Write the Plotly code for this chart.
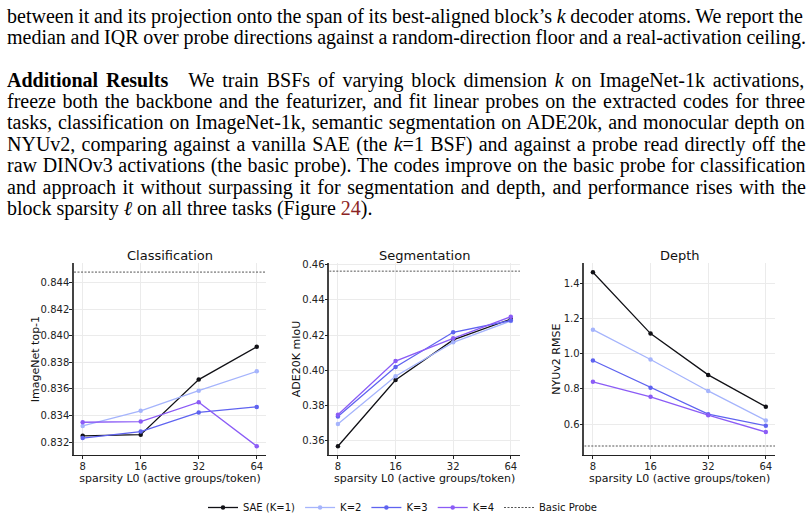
import plotly.graph_objects as go
import math
import re

# ---------------- data ----------------
sparsity = [8, 16, 32, 64]
series_names = ["SAE (K=1)", "K=2", "K=3", "K=4"]
series_colors = ["#111116", "#a5b4fc", "#5f63f0", "#8b5cf6"]

cls_sae = [0.83247, 0.83255, 0.83671, 0.83919]
cls_k2 = [0.83321, 0.83435, 0.83587, 0.83733]
cls_k3 = [0.83230, 0.83279, 0.83423, 0.83465]
cls_k4 = [0.83349, 0.83354, 0.83500, 0.83168]
cls_basic = 0.84482

seg_sae = [0.3570, 0.3945, 0.4173, 0.4291]
seg_k2 = [0.3696, 0.3967, 0.4159, 0.4280]
seg_k3 = [0.3739, 0.4019, 0.4216, 0.4282]
seg_k4 = [0.3748, 0.4053, 0.4182, 0.4304]
seg_basic = 0.45625

dep_sae = [1.4614, 1.1135, 0.8791, 0.6986]
dep_k2 = [1.1358, 0.9665, 0.7879, 0.6205]
dep_k3 = [0.9609, 0.8065, 0.6558, 0.5907]
dep_k4 = [0.8400, 0.7544, 0.6502, 0.5549]
dep_basic = 0.4753

panel_titles = ["Classification", "Segmentation", "Depth"]
y_titles = ["ImageNet top-1", "ADE20K mIoU", "NYUv2 RMSE"]
x_title = "sparsity L0 (active groups/token)"
cls_ticks = [0.832, 0.834, 0.836, 0.838, 0.840, 0.842, 0.844]
seg_ticks = [0.36, 0.38, 0.40, 0.42, 0.44, 0.46]
dep_ticks = [0.6, 0.8, 1.0, 1.2, 1.4]

text_lines = [
    "between it and its projection onto the span of its best-aligned block\u2019s <i>k</i> decoder atoms. We report the",
    "median and IQR over probe directions against a random-direction floor and a real-activation ceiling.",
    "<b>Additional Results</b>\u2003We train BSFs of varying block dimension <i>k</i> on ImageNet-1k activations,",
    "freeze both the backbone and the featurizer, and fit linear probes on the extracted codes for three",
    "tasks, classification on ImageNet-1k, semantic segmentation on ADE20k, and monocular depth on",
    "NYUv2, comparing against a vanilla SAE (the <i>k</i>=1 BSF) and against a probe read directly off the",
    "raw DINOv3 activations (the basic probe). The codes improve on the basic probe for classification",
    "and approach it without surpassing it for segmentation and depth, and performance rises with the",
    "block sparsity <i>\u2113</i> on all three tasks (Figure <span style='color:#8b2323'>24</span>).",
]
text_justified = [True, True, True, True, True, True, True, True, False]
text_baselines = [20.5, 42, 85, 106.7, 128.3, 150, 171.7, 193.3, 215]

# ---------------- text width estimation (Times metrics, per 1000 em) ----------------
ROMAN = dict(zip(
    " abcdefghijklmnopqrstuvwxyz",
    [250, 444, 500, 444, 500, 444, 333, 500, 500, 278, 278, 500, 278, 778, 500, 500, 500,
     500, 333, 389, 278, 500, 500, 722, 500, 500, 444]))
ROMAN.update(dict(zip(
    "ABCDEFGHIJKLMNOPQRSTUVWXYZ",
    [722, 667, 667, 722, 611, 556, 722, 722, 333, 389, 722, 611, 889, 722, 722, 556, 722,
     667, 556, 611, 722, 722, 944, 722, 722, 611])))
ROMAN.update({c: 500 for c in "0123456789"})
ROMAN.update({",": 250, ".": 250, "-": 333, "(": 333, ")": 333, "=": 564, "\u2019": 333,
              ":": 278, ";": 278, "/": 278, "\u2003": 1000, "\u2113": 420})
BOLD = dict(ROMAN)
BOLD.update({"A": 722, "R": 722, "d": 556, "n": 556, "u": 556, "t": 333, "a": 500, "s": 389,
             "e": 444, "i": 278, "o": 500, "l": 278, " ": 250})
ITAL = dict(ROMAN)
ITAL.update({"k": 444})


def measure(s):
    bold = ital = False
    total = 0
    spaces = 0
    for part in re.split(r"(<[^>]+>)", s):
        if part.startswith("<"):
            inner = part.strip("</>")
            tag = inner.split()[0].lower() if inner else ""
            closing = part.startswith("</")
            if tag == "b":
                bold = not closing
            elif tag == "i":
                ital = not closing
            continue
        table = BOLD if bold else (ITAL if ital else ROMAN)
        for ch in part:
            total += table.get(ch, 500)
            if ch == " ":
                spaces += 1
    return total / 1000.0, spaces


# ---------------- layout helpers ----------------
W, H = 806, 522
panels = [
    dict(x0=74, x1=266, data=[cls_sae, cls_k2, cls_k3, cls_k4], basic=cls_basic,
         yr=[0.83103, 0.84547], ticks=cls_ticks, fmt=".3f", ytx=35),
    dict(x0=329.3, x1=520, data=[seg_sae, seg_k2, seg_k3, seg_k4], basic=seg_basic,
         yr=[0.3521, 0.4606], ticks=seg_ticks, fmt=".2f", ytx=296),
    dict(x0=584.3, x1=775, data=[dep_sae, dep_k2, dep_k3, dep_k4], basic=dep_basic,
         yr=[0.425, 1.5116], ticks=dep_ticks, fmt=".1f", ytx=556.5),
]
ytop, ybot = 263, 457
xr = [math.log10(8) - 0.045, math.log10(64) + 0.048]

fig = go.Figure()
FONT = "DejaVu Sans"
annotations = []

for i, p in enumerate(panels):
    sfx = "" if i == 0 else str(i + 1)
    for j, (name, col, vals) in enumerate(zip(series_names, series_colors, p["data"])):
        fig.add_trace(go.Scatter(
            x=sparsity, y=vals, mode="lines+markers", name=name,
            line=dict(color=col, width=1.3), marker=dict(color=col, size=4.5),
            xaxis="x" + sfx, yaxis="y" + sfx, showlegend=(i == 0), legendrank=j + 1,
        ))
    fig.add_trace(go.Scatter(
        x=[10 ** xr[0], 10 ** xr[1]], y=[p["basic"], p["basic"]], mode="lines",
        name="Basic Probe", line=dict(color="#555555", width=1, dash="2px,1.5px"),
        xaxis="x" + sfx, yaxis="y" + sfx, showlegend=(i == 0), legendrank=5,
    ))
    xdom = [p["x0"] / W, p["x1"] / W]
    ydom = [1 - ybot / H, 1 - ytop / H]
    fig.layout["xaxis" + sfx] = dict(
        domain=xdom, type="log", range=xr, tickvals=sparsity,
        ticktext=[str(s) for s in sparsity], anchor="y" + sfx,
        showline=True, linecolor="#222222", linewidth=1.3,
        showgrid=True, gridcolor="#ebebeb", gridwidth=1, zeroline=False,
        ticks="outside", ticklen=3, tickcolor="#222222", ticklabelstandoff=-1,
        tickfont=dict(family=FONT, size=10, color="#222222"),
        title=dict(text=x_title, font=dict(family=FONT, size=11, color="#111111"), standoff=1),
    )
    fig.layout["yaxis" + sfx] = dict(
        domain=ydom, range=p["yr"], tickvals=p["ticks"], tickformat=p["fmt"],
        anchor="x" + sfx, showline=True, linecolor="#444444", linewidth=1.5,
        showgrid=True, gridcolor="#ebebeb", gridwidth=1, zeroline=False,
        ticks="outside", ticklen=3, tickcolor="#222222", ticklabelstandoff=-2,
        tickfont=dict(family=FONT, size=10, color="#222222"),
    )
    annotations.append(dict(
        text=panel_titles[i], x=(p["x0"] + p["x1"]) / 2 / W, y=1 - 255 / H,
        xref="paper", yref="paper", xanchor="center", yanchor="middle",
        showarrow=False, font=dict(family=FONT, size=13, color="#111111"),
    ))
    annotations.append(dict(
        text=y_titles[i], x=p["ytx"] / W, y=1 - (ytop + ybot) / 2 / H, textangle=-90,
        xref="paper", yref="paper", xanchor="center", yanchor="middle",
        showarrow=False, font=dict(family=FONT, size=11, color="#111111"),
    ))

TFS = 20
TEXT_LEFT, TEXT_WIDTH = 5, 799
for line, just, base in zip(text_lines, text_justified, text_baselines):
    ems, nsp = measure(line)
    natural = ems * TFS
    ws = (TEXT_WIDTH - natural) / nsp if (just and nsp) else 0.0
    txt = "<span style='word-spacing:%.2fpx'>%s</span>" % (ws, line)
    annotations.append(dict(
        text=txt, x=TEXT_LEFT / W, y=1 - (base - 0.34 * TFS - 1) / H, xref="paper", yref="paper",
        xanchor="left", yanchor="middle", showarrow=False,
        font=dict(family="Liberation Serif", size=TFS, color="#000000"),
    ))

fig.update_layout(
    width=W, height=H, margin=dict(l=0, r=0, t=0, b=0),
    paper_bgcolor="white", plot_bgcolor="white",
    annotations=annotations,
    legend=dict(orientation="h", x=0.5, xanchor="center", y=1 - 510.7 / H, yanchor="middle",
                font=dict(family=FONT, size=10, color="#111111"), bgcolor="rgba(0,0,0,0)",
                traceorder="normal"),
    showlegend=True,
)

fig.write_html("out.html")
